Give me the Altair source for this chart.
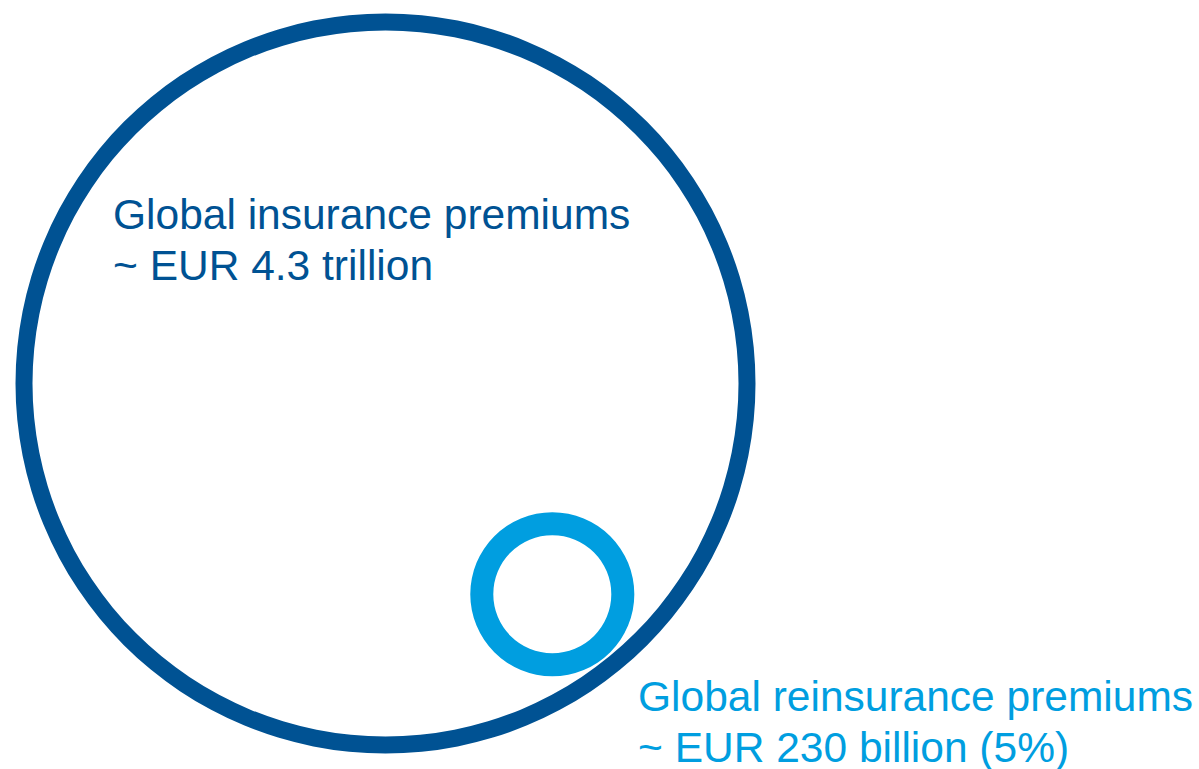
import altair as alt
import pandas as pd

W, H = 1199, 769

# --- data ---
markets = ["Global insurance premiums", "Global reinsurance premiums"]
premiums_eur_bn = [4300, 230]
label_line2 = ["~ EUR 4.3 trillion", "~ EUR 230 billion (5%)"]

# --- layout / style (kept separate from data) ---
colors = ["#005293", "#009EE0"]
center_x = [385.5, 552.3]
center_y = [383.5, 594.2]
inner_radius = [353, 59]
label_x = [113, 638]
label_y1 = [229, 711]
label_y2 = [280, 762]

circles = pd.DataFrame({
    "market": markets,
    "premium": premiums_eur_bn,
    "cx": center_x,
    "cy": center_y,
    "color": colors,
})

text_rows = []
for i in range(2):
    text_rows.append({"text": markets[i], "tx": label_x[i], "ty": label_y1[i], "color": colors[i]})
    text_rows.append({"text": label_line2[i], "tx": label_x[i], "ty": label_y2[i], "color": colors[i]})
texts = pd.DataFrame(text_rows)

xs = alt.Scale(domain=[0, W], range=[0, W], nice=False, zero=False)
ys = alt.Scale(domain=[0, H], range=[0, H], nice=False, zero=False)
rs = alt.Scale(type="linear", domain=[230, 4300], range=[82, 370], zero=False, nice=False)

layers = []
for i in range(2):
    ring = alt.Chart(circles).transform_filter(
        alt.datum.market == markets[i]
    ).mark_arc(theta=0, theta2=6.2832, color=colors[i], innerRadius=inner_radius[i]).encode(
        x=alt.X("cx:Q", scale=xs, axis=None),
        y=alt.Y("cy:Q", scale=ys, axis=None),
        radius=alt.Radius("premium:Q", scale=rs, stack=False),
    )
    layers.append(ring)

labels = alt.Chart(texts).mark_text(
    align="left", baseline="alphabetic", font="Liberation Sans", fontSize=42.5
).encode(
    x=alt.X("tx:Q", scale=xs, axis=None),
    y=alt.Y("ty:Q", scale=ys, axis=None),
    text="text:N",
    color=alt.Color("color:N", scale=None),
)
layers.append(labels)

chart = alt.layer(*layers).properties(
    width=W, height=H, padding=0, autosize="none", background="white"
).configure_view(stroke=None)

chart.save("out.html", embed_options={"renderer": "svg", "actions": False})
